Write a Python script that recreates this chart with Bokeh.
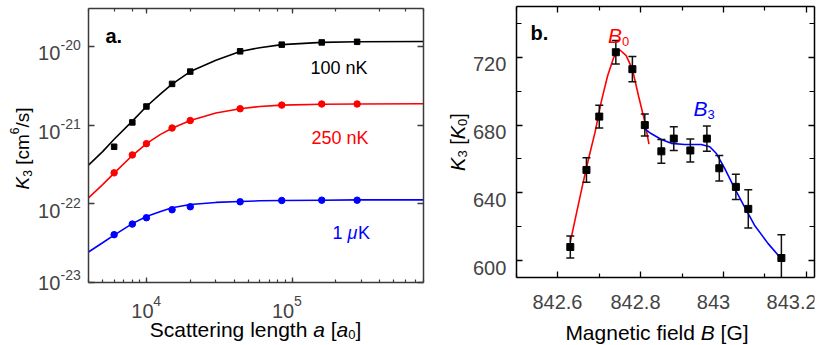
import math
from bokeh.plotting import figure
from bokeh.models import (Label, LogAxis, LinearAxis, FixedTicker, LogTicker,
                          CustomJSTickFormatter, Range1d)
from bokeh.layouts import row, column
from bokeh.embed import file_html
from bokeh.resources import INLINE

FONT = "Liberation Sans"

# ---------------- Panel a: K3 vs scattering length ----------------
a_points = [6000, 8000, 10000, 15000, 20000, 44000, 85000, 160000, 280000]
k3_100nK = [5.3e-22, 1.08e-21, 1.72e-21, 3.33e-21, 4.77e-21, 8.63e-21, 1.05e-20, 1.12e-20, 1.14e-20]
k3_250nK = [2.47e-22, 4.17e-22, 5.8e-22, 9.16e-22, 1.14e-21, 1.61e-21, 1.79e-21, 1.85e-21, 1.85e-21]
k3_1uK = [4.05e-23, 5.52e-23, 6.65e-23, 8.4e-23, 9.16e-23, 1.06e-22, 1.10e-22, 1.11e-22, 1.11e-22]

a_fit = [4000, 5000, 6000, 8000, 10000, 12500, 15000, 20000, 30000, 44000, 60000, 85000, 160000, 280000, 800000]
fit_100nK = [3.1e-22, 4.6e-22, 6.6e-22, 1.12e-21, 1.72e-21, 2.48e-21, 3.3e-21, 4.77e-21, 6.65e-21, 8.6e-21,
             9.6e-21, 1.05e-20, 1.12e-20, 1.14e-20, 1.15e-20]
fit_250nK = [1.19e-22, 1.75e-22, 2.45e-22, 4.1e-22, 5.8e-22, 7.6e-22, 9.1e-22, 1.14e-21, 1.42e-21, 1.61e-21,
             1.72e-21, 1.79e-21, 1.84e-21, 1.85e-21, 1.86e-21]
fit_1uK = [2.44e-23, 3.2e-23, 4.0e-23, 5.6e-23, 6.9e-23, 8.0e-23, 8.9e-23, 9.8e-23, 1.04e-22, 1.07e-22,
           1.09e-22, 1.10e-22, 1.11e-22, 1.12e-22, 1.12e-22]

a_xticks = [1e4, 1e5]
a_xtick_exp = ["4", "5"]
a_yticks = [1e-23, 1e-22, 1e-21, 1e-20]
a_ytick_exp = ["-23", "-22", "-21", "-20"]

# ---------------- Panel b: K3 vs magnetic field ----------------
b_field = [842.63, 842.669, 842.70, 842.74, 842.78, 842.81, 842.85, 842.88, 842.92, 842.96,
           842.99, 843.03, 843.06, 843.14]
b_k3 = [608.0, 653.5, 685.0, 723.0, 713.0, 680.0, 664.5, 672.0, 665.0, 672.0, 654.5, 643.5, 630.5, 601.5]
b_err = [6.5, 7.2, 6.7, 7.0, 7.5, 6.5, 7.0, 7.0, 6.8, 7.4, 7.5, 7.5, 11.3, 13.8]

b0_field = [842.630, 842.645, 842.660, 842.675, 842.690, 842.705, 842.720, 842.735, 842.750, 842.765,
            842.780, 842.795, 842.810, 842.820]
b0_fit = [611, 628, 645, 661, 676, 694, 709, 720, 724.3, 721, 713, 697, 682, 668.7]
b3_field = [842.803, 842.825, 842.850, 842.874, 842.906, 842.946, 842.967, 842.983, 843.003, 843.027,
            843.051, 843.075, 843.108, 843.136]
b3_fit = [679, 675, 671.5, 669.2, 668.5, 668.5, 667.2, 663.2, 654.4, 642.6, 631.7, 620.9, 610, 602.1]

b_xticks = [842.6, 842.8, 843.0, 843.2]
b_xtick_labels = ["842.6", "842.8", "843", "843.2"]
b_xminor = [842.5, 842.7, 842.9, 843.1]
b_yticks = [600, 640, 680, 720]
b_ytick_labels = ["600", "640", "680", "720"]
b_yminor = [620, 660, 700, 740]

RED = "#ff0000"
BLUE = "#0000ff"

# Arial / Liberation Sans advance widths (per 1000 em)
W = {' ': 278, '[': 278, ']': 278, '/': 278, '.': 278, '-': 333, 'μ': 576,
     'a': 556, 'c': 500, 'd': 556, 'e': 556, 'f': 278, 'g': 556, 'h': 556, 'i': 222,
     'l': 222, 'm': 833, 'n': 556, 'r': 333, 's': 500, 't': 278,
     'S': 667, 'M': 833, 'B': 667, 'G': 778, 'K': 667}


def tw(s, size):
    return sum(W.get(ch, 556) for ch in s) * size / 1000.0


def rich(p, x, y, pieces, anchor="left", angle=0.0):
    """pieces: (text, size, style, dy, color); x, y in screen px relative to frame."""
    total = sum(tw(t, s) for t, s, st, dy, c in pieces)
    if anchor == "center":
        pos = -total / 2.0
    elif anchor == "right":
        pos = -total
    else:
        pos = 0.0
    for t, s, st, dy, c in pieces:
        body = t.lstrip(" ")
        lead = tw(t[:len(t) - len(body)], s)
        if body.strip():
            if angle == 0:
                lx, ly = x + pos + lead, y + dy
            else:
                lx, ly = x - dy, y + pos + lead
            p.add_layout(Label(x=lx, y=ly, x_units="screen", y_units="screen", text=body.rstrip(" "),
                               text_font=FONT, text_font_size=f"{s}px", text_font_style=st,
                               text_color=c, text_align="left", text_baseline="alphabetic",
                               angle=angle))
        pos += tw(t, s)


def style_axis(ax, color, major_in=6, minor_in=3, show_minor=True):
    ax.axis_line_color = color
    ax.axis_line_width = 1.5
    ax.major_tick_line_color = color
    ax.major_tick_line_width = 1.3
    ax.major_tick_in = major_in
    ax.major_tick_out = 0
    ax.minor_tick_line_color = color if show_minor else None
    ax.minor_tick_line_width = 1.2
    ax.minor_tick_in = minor_in
    ax.minor_tick_out = 0


def hide_labels(ax):
    ax.formatter = CustomJSTickFormatter(code="return ''")
    ax.major_label_text_font_size = "0px"
    ax.major_label_standoff = 0
    ax.axis_label_standoff = 0


def ext_range(lo, hi, frame_px, before, after, log=False):
    l, h = (math.log10(lo), math.log10(hi)) if log else (lo, hi)
    d = (h - l) / frame_px
    l2, h2 = l - before * d, h + after * d
    return Range1d(10 ** l2, 10 ** h2) if log else Range1d(l2, h2)


def strip(w, h, xr, yr, xlog=False, ylog=False):
    f = figure(width=w, height=h, x_range=xr, y_range=yr,
               x_axis_type="log" if xlog else "linear", y_axis_type="log" if ylog else "linear",
               x_axis_location=None, y_axis_location=None, min_border=0,
               toolbar_location=None, output_backend="svg")
    f.outline_line_color = None
    f.grid.visible = False
    return f


H = 344
# ================= Panel a geometry (page px) =================
# frame: x 88..423, y 8..282
A_XR = (4000, 8e5)
A_YR = (1e-23, 3.02e-20)
A_FW, A_FH = 335, 274
A_L, A_R, A_T, A_B = 2, 10, 8, 2

pa = figure(width=A_L + A_FW + A_R, height=A_T + A_FH + A_B, x_axis_type="log", y_axis_type="log",
            x_range=Range1d(*A_XR), y_range=Range1d(*A_YR),
            output_backend="svg", toolbar_location=None,
            min_border_left=A_L, min_border_right=A_R, min_border_top=A_T, min_border_bottom=A_B)
pa.grid.visible = False
pa.outline_line_color = None
AX_A = "#3a3a3a"
for ax in pa.xaxis:
    style_axis(ax, AX_A, 5, 3)
    hide_labels(ax)
for ax in pa.yaxis:
    style_axis(ax, AX_A, 6, 3, show_minor=False)
    hide_labels(ax)
top_a = LogAxis(ticker=LogTicker())
style_axis(top_a, AX_A, 5, 3)
hide_labels(top_a)
pa.add_layout(top_a, "above")
right_a = LogAxis(ticker=LogTicker())
style_axis(right_a, AX_A, 6, 3, show_minor=False)
hide_labels(right_a)
pa.add_layout(right_a, "right")

pa.line(a_fit, fit_100nK, line_color="black", line_width=1.6)
pa.line(a_fit, fit_250nK, line_color=RED, line_width=1.6)
pa.line(a_fit, fit_1uK, line_color=BLUE, line_width=1.6)
pa.scatter(a_points, k3_100nK, marker="square", size=5.5, fill_color="black", line_color="black")
pa.scatter(a_points, k3_250nK, marker="circle", size=6.5, fill_color=RED, line_color=RED)
pa.scatter(a_points, k3_1uK, marker="circle", size=6.5, fill_color=BLUE, line_color=BLUE)

rich(pa, 17, 247, [("a.", 20, "bold", 0, "black")])
rich(pa, 222, 215, [("100 nK", 18, "normal", 0, "black")])
rich(pa, 223, 145, [("250 nK", 18, "normal", 0, RED)])
rich(pa, 244, 50, [("1 ", 18, "normal", 0, BLUE), ("μ", 18, "italic", 0, BLUE), ("K", 18, "normal", 0, BLUE)])

# left strip for panel a (page x 0..86)
ya = strip(86, H, Range1d(0, 86), ext_range(*A_YR, A_FH, H - A_T - A_FH, A_T, log=True), ylog=True)
for i, (v, e) in enumerate(zip(a_yticks, a_ytick_exp)):
    lift = 7 if i == 0 else 0  # lowest label sits just above the corner
    ya.add_layout(Label(x=59.8, y=v, x_units="screen", y_units="data", text="10", y_offset=-7 + lift,
                        text_font=FONT, text_font_size="20px", text_align="right",
                        text_baseline="alphabetic"))
    ya.add_layout(Label(x=60, y=v, x_units="screen", y_units="data", text=e, y_offset=1 + lift,
                        text_font=FONT, text_font_size="14px", text_align="left",
                        text_baseline="alphabetic"))
rich(ya, 22, H - 148, [("K", 19, "italic", 0, "black"), ("3", 12, "normal", -5, "black"),
                       (" [cm", 19, "normal", 0, "black"), ("6", 12, "normal", 8, "black"),
                       ("/s]", 19, "normal", 0, "black")], anchor="center", angle=math.pi / 2)

# bottom strip for panel a (page x 86..433, y 284..344)
XA_H = H - (A_T + A_FH + A_B)
xa = strip(A_L + A_FW + A_R, XA_H, ext_range(*A_XR, A_FW, A_L, A_R, log=True), Range1d(0, XA_H), xlog=True)
for v, e in zip(a_xticks, a_xtick_exp):
    xa.add_layout(Label(x=v, y=H - 310, x_units="data", y_units="screen", text="10", x_offset=-15,
                        text_font=FONT, text_font_size="20px", text_align="left",
                        text_baseline="alphabetic"))
    xa.add_layout(Label(x=v, y=H - 300, x_units="data", y_units="screen", text=e, x_offset=7,
                        text_font=FONT, text_font_size="14px", text_align="left",
                        text_baseline="alphabetic"))
rich(xa, 253 - 86, H - 329, [("Scattering length ", 21, "normal", 0, "black"), ("a", 21, "italic", 0, "black"),
                             (" [", 21, "normal", 0, "black"), ("a", 21, "italic", 0, "black"),
                             ("0", 13, "normal", -5, "black"), ("]", 21, "normal", 0, "black")],
     anchor="center")

# ================= Panel b geometry (page px) =================
# frame: x 516..814, y 6..277
B_XR = (842.5, 843.22)
B_YR = (590, 750)
B_FW, B_FH = 298, 271
B_L, B_R, B_T, B_B = 2, 16, 6, 2

pb = figure(width=B_L + B_FW + B_R, height=B_T + B_FH + B_B, x_range=Range1d(*B_XR), y_range=Range1d(*B_YR),
            output_backend="svg", toolbar_location=None,
            min_border_left=B_L, min_border_right=B_R, min_border_top=B_T, min_border_bottom=B_B)
pb.grid.visible = False
pb.outline_line_color = None
xt = FixedTicker(ticks=b_xticks, minor_ticks=b_xminor)
yt = FixedTicker(ticks=b_yticks, minor_ticks=b_yminor)
for ax in pb.xaxis:
    style_axis(ax, "black", 6, 4)
    ax.ticker = xt
    hide_labels(ax)
for ax in pb.yaxis:
    style_axis(ax, "black", 6, 5)
    ax.ticker = yt
    hide_labels(ax)
top_b = LinearAxis(ticker=xt)
style_axis(top_b, "black", 6, 4)
hide_labels(top_b)
pb.add_layout(top_b, "above")
right_b = LinearAxis(ticker=yt)
style_axis(right_b, "black", 6, 5)
hide_labels(right_b)
pb.add_layout(right_b, "right")

pb.line(b0_field, b0_fit, line_color=RED, line_width=1.6)
pb.line(b3_field, b3_fit, line_color=BLUE, line_width=1.6)
upper = [k + e for k, e in zip(b_k3, b_err)]
lower = [k - e for k, e in zip(b_k3, b_err)]
pb.segment(x0=b_field, y0=lower, x1=b_field, y1=upper, line_color="#111111", line_width=1.5)
pb.scatter(b_field, upper, marker="dash", size=8, line_color="#111111", line_width=1.5)
pb.scatter(b_field, lower, marker="dash", size=8, line_color="#111111", line_width=1.5)
pb.scatter(b_field, b_k3, marker="square", size=7, fill_color="black", line_color="black")

rich(pb, 14, 245, [("b.", 20, "bold", 0, "black")])
rich(pb, 91.5, 242, [("B", 21, "italic", 0, RED), ("0", 13, "normal", -6, RED)])
rich(pb, 177, 169, [("B", 21, "italic", 0, BLUE), ("3", 13, "normal", -6, BLUE)])

# left strip for panel b (page x 433..514)
YB_W = 516 - B_L - 433
yb = strip(YB_W, H, Range1d(0, YB_W), ext_range(*B_YR, B_FH, H - B_T - B_FH, B_T))
for v, t in zip(b_yticks, b_ytick_labels):
    yb.add_layout(Label(x=505.8 - 433, y=v, x_units="screen", y_units="data", text=t, y_offset=-7,
                        text_font=FONT, text_font_size="20px", text_align="right",
                        text_baseline="alphabetic"))
rich(yb, 457 - 433, H - 141.5, [("K", 20, "italic", 0, "black"), ("3", 13, "normal", -5, "black"),
                                (" [", 20, "normal", 0, "black"), ("K", 20, "italic", 0, "black"),
                                ("0", 13, "normal", -5, "black"), ("]", 20, "normal", 0, "black")],
     anchor="center", angle=math.pi / 2)

# bottom strip for panel b (page x 514..830, y 279..344)
XB_H = H - (B_T + B_FH + B_B)
xb = strip(B_L + B_FW + B_R, XB_H, ext_range(*B_XR, B_FW, B_L, B_R), Range1d(0, XB_H))
for v, t in zip(b_xticks, b_xtick_labels):
    xb.add_layout(Label(x=v, y=H - 301.7, x_units="data", y_units="screen", text=t,
                        text_font=FONT, text_font_size="20px", text_align="center",
                        text_baseline="alphabetic"))
rich(xb, 654.5 - 514, H - 332, [("Magnetic field ", 21, "normal", 0, "black"), ("B", 21, "italic", 0, "black"),
                                (" [G]", 21, "normal", 0, "black")], anchor="center")

layout = row(ya, column(pa, xa), yb, column(pb, xb))
open("out.html", "w").write(file_html(layout, INLINE))
